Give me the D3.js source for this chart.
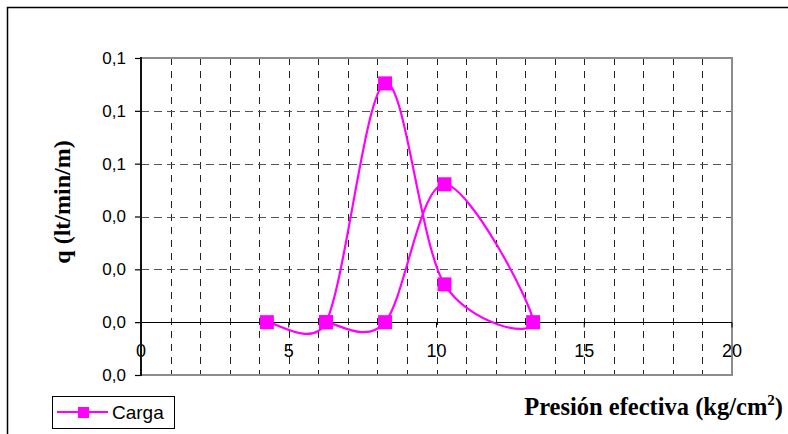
<!DOCTYPE html>
<html>
<head>
<meta charset="utf-8">
<script src="https://cdn.jsdelivr.net/npm/d3@7"></script>
<style>
  html, body { margin: 0; padding: 0; background: #fff; }
  svg { display: block; }
</style>
</head>
<body>
<svg id="chart" width="788" height="434"></svg>
<script>
// ---- data ----
const pressure = [4.26, 6.26, 8.26, 10.27, 13.27, 10.27, 8.26, 6.26];
const flow = [0, 0, 0.0904, 0.0143, 0, 0.0522, 0, 0];
const seriesName = "Carga";
const xTicks = [0, 5, 10, 15, 20];
const xTickLabels = ["0", "5", "10", "15", "20"];
const xMinorGrid = [1,2,3,4,5,6,7,8,9,10,11,12,13,14,15,16,17,18,19];
const yTicks = [-0.02, 0, 0.02, 0.04, 0.06, 0.08, 0.1];
const yTickLabels = ["0,0", "0,0", "0,0", "0,0", "0,1", "0,1", "0,1"];
const yGrid = [0.02, 0.04, 0.06, 0.08];
const yTitle = "q (lt/min/m)";
const xTitleMain = "Presión efectiva (kg/cm";
const xTitleSup = "2";
const xTitleEnd = ")";

const svg = d3.select("#chart");
const pLeft = 141, pRight = 732, pTop = 58, pBottom = 375;
const x = d3.scaleLinear().domain([0, 20]).range([pLeft, pRight]);
const y = d3.scaleLinear().domain([-0.02, 0.1]).range([pBottom, pTop]);
const magenta = "#ff00ff";

// outer border
svg.append("rect").attr("x", 7.5).attr("y", 7.5).attr("width", 800).attr("height", 450)
  .attr("fill", "none").attr("stroke", "#000").attr("stroke-width", 1.5);

// vertical gridlines
svg.append("g").selectAll("line").data(xMinorGrid).join("line")
  .attr("x1", d => Math.round(x(d)) + 0.5).attr("x2", d => Math.round(x(d)) + 0.5)
  .attr("y1", pTop).attr("y2", pBottom)
  .attr("stroke", "#222").attr("stroke-width", 1).attr("stroke-dasharray", "7,6");

// horizontal gridlines
svg.append("g").selectAll("line").data(yGrid).join("line")
  .attr("x1", pLeft).attr("x2", pRight)
  .attr("y1", d => Math.round(y(d)) + 0.5).attr("y2", d => Math.round(y(d)) + 0.5)
  .attr("stroke", "#555").attr("stroke-width", 1).attr("stroke-dasharray", "8,5");

// plot border (top, right, bottom gray)
svg.append("path")
  .attr("d", `M${pLeft},${pTop}H${pRight}V${pBottom}H${pLeft}`)
  .attr("fill", "none").attr("stroke", "#8c8c8c").attr("stroke-width", 2);

// x axis at y = 0
const xAxisG = svg.append("g").attr("transform", `translate(0,${Math.round(y(0)) + 0.5})`);
xAxisG.append("line").attr("x1", pLeft).attr("x2", pRight).attr("stroke", "#000").attr("stroke-width", 1);
xAxisG.selectAll("line.tk").data(xTicks).join("line").attr("class", "tk")
  .attr("x1", d => x(d)).attr("x2", d => x(d)).attr("y1", 0).attr("y2", 5)
  .attr("stroke", "#000").attr("stroke-width", 1);
xAxisG.selectAll("text").data(xTicks).join("text")
  .attr("x", d => x(d)).attr("y", 34)
  .attr("text-anchor", "middle")
  .attr("font-family", "Liberation Sans, Arial, sans-serif").attr("font-size", 18)
  .attr("fill", "#000")
  .text((d, i) => xTickLabels[i]);

// y axis
const yAxis = d3.axisLeft(y).tickValues(yTicks).tickSize(6).tickPadding(9)
  .tickFormat((d, i) => yTickLabels[i]);
const yAxisG = svg.append("g").attr("transform", `translate(${pLeft},0)`).call(yAxis);
yAxisG.select(".domain").remove();
yAxisG.selectAll(".tick line").attr("stroke", "#000").attr("stroke-width", 1.2);
yAxisG.selectAll(".tick text")
  .attr("font-family", "Liberation Sans, Arial, sans-serif").attr("font-size", 17).attr("fill", "#000");
svg.append("line").attr("x1", pLeft).attr("x2", pLeft).attr("y1", pTop - 1).attr("y2", pBottom + 1)
  .attr("stroke", "#111").attr("stroke-width", 2);

// Excel-like smoothed curve
function excelCurve(context) {
  let pts;
  return {
    areaStart() {}, areaEnd() {},
    lineStart() { pts = []; },
    point(px, py) { pts.push([+px, +py]); },
    lineEnd() {
      const n = pts.length;
      if (!n) return;
      context.moveTo(pts[0][0], pts[0][1]);
      for (let i = 0; i < n - 1; i++) {
        const p0 = pts[Math.max(i - 1, 0)], p1 = pts[i], p2 = pts[i + 1], p3 = pts[Math.min(i + 2, n - 1)];
        const seg = Math.hypot(p2[0] - p1[0], p2[1] - p1[1]);
        const cap = (t) => {
          const l = Math.hypot(t[0], t[1]);
          const m = seg * 0.5;
          return l > m ? [t[0] * m / l, t[1] * m / l] : t;
        };
        const t1 = cap([(p2[0] - p0[0]) / 6, (p2[1] - p0[1]) / 6]);
        const t2 = cap([(p3[0] - p1[0]) / 6, (p3[1] - p1[1]) / 6]);
        context.bezierCurveTo(p1[0] + t1[0], p1[1] + t1[1], p2[0] - t2[0], p2[1] - t2[1], p2[0], p2[1]);
      }
    }
  };
}

const data = pressure.map((p, i) => ({ p, q: flow[i] }));
const line = d3.line().x(d => x(d.p)).y(d => y(d.q)).curve(excelCurve);
svg.append("path").datum(data).attr("d", line)
  .attr("fill", "none").attr("stroke", magenta).attr("stroke-width", 2.2);

const ms = 14;
svg.append("g").selectAll("rect").data(data).join("rect")
  .attr("x", d => x(d.p) - ms / 2).attr("y", d => y(d.q) - ms / 2)
  .attr("width", ms).attr("height", ms).attr("fill", magenta);

// axis titles
svg.append("text")
  .attr("transform", "translate(70,202) rotate(-90)")
  .attr("text-anchor", "middle")
  .attr("font-family", "Liberation Serif, Times New Roman, serif")
  .attr("font-weight", "bold").attr("font-size", 24).attr("fill", "#000")
  .text(yTitle);

const xt = svg.append("text")
  .attr("x", 783).attr("y", 415).attr("text-anchor", "end")
  .attr("font-family", "Liberation Serif, Times New Roman, serif")
  .attr("font-weight", "bold").attr("font-size", 24.5).attr("fill", "#000");
xt.append("tspan").text(xTitleMain);
xt.append("tspan").attr("dy", -10).attr("font-size", 15).text(xTitleSup);
xt.append("tspan").attr("dy", 10).text(xTitleEnd);

// legend
const lg = svg.append("g");
lg.append("rect").attr("x", 52.5).attr("y", 396.5).attr("width", 122).attr("height", 32)
  .attr("fill", "#fff").attr("stroke", "#000").attr("stroke-width", 1);
lg.append("line").attr("x1", 57).attr("x2", 108).attr("y1", 412).attr("y2", 412)
  .attr("stroke", magenta).attr("stroke-width", 2);
lg.append("rect").attr("x", 78).attr("y", 407).attr("width", 11).attr("height", 11).attr("fill", magenta);
lg.append("text").attr("x", 112).attr("y", 419)
  .attr("font-family", "Liberation Sans, Arial, sans-serif").attr("font-size", 19).attr("fill", "#000")
  .text(seriesName);
</script>
</body>
</html>
